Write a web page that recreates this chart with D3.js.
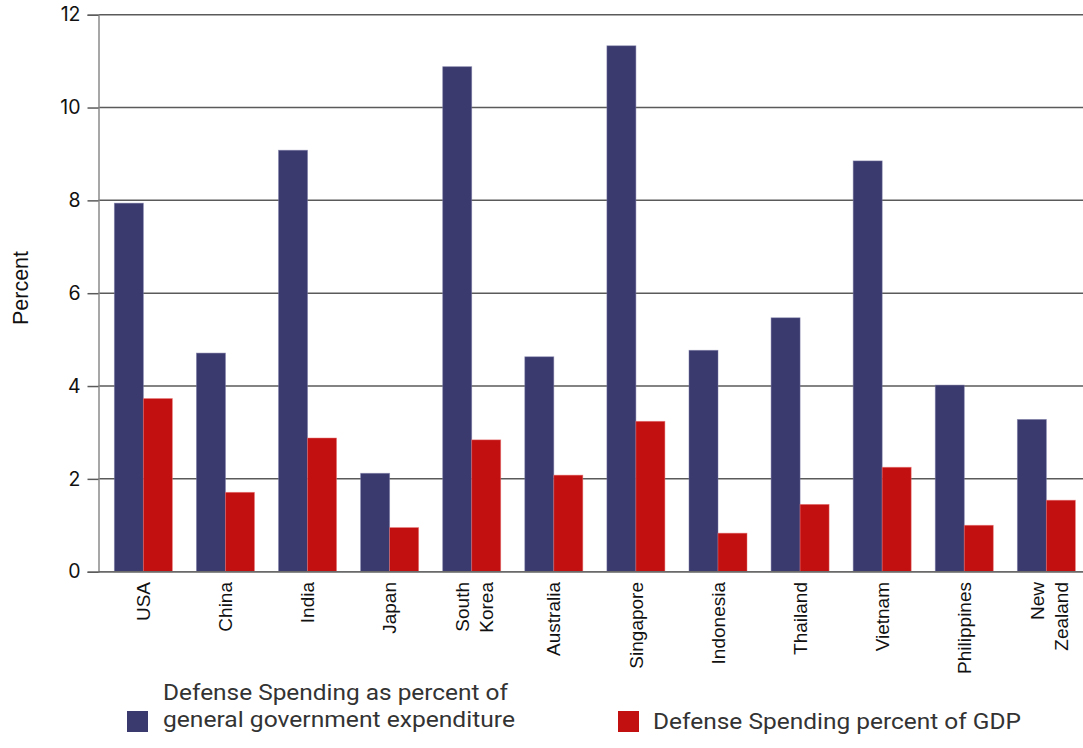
<!DOCTYPE html>
<html>
<head>
<meta charset="utf-8">
<script src="https://cdn.jsdelivr.net/npm/d3@7/dist/d3.min.js"></script>
<style>
  html, body { margin: 0; padding: 0; background: #fff; }
  svg { display: block; }
</style>
</head>
<body>
<svg id="chart" width="1083" height="748"></svg>
<script>
const categories = ["USA", "China", "India", "Japan", "South Korea", "Australia", "Singapore", "Indonesia", "Thailand", "Vietnam", "Philippines", "New Zealand"];
const categoryLines = [["USA"], ["China"], ["India"], ["Japan"], ["South", "Korea"], ["Australia"], ["Singapore"], ["Indonesia"], ["Thailand"], ["Vietnam"], ["Philippines"], ["New", "Zealand"]];
const seriesNames = ["Defense Spending as percent of general government expenditure", "Defense Spending percent of GDP"];
const legendLines = [["Defense Spending as percent of", "general government expenditure"], ["Defense Spending percent of GDP"]];
const govExpenditure = [7.94, 4.71, 9.08, 2.12, 10.88, 4.63, 11.33, 4.77, 5.47, 8.85, 4.02, 3.28];
const gdpShare = [3.73, 1.71, 2.88, 0.95, 2.84, 2.08, 3.24, 0.83, 1.45, 2.25, 1.00, 1.54];
const yTicks = [0, 2, 4, 6, 8, 10, 12];
const colors = ["#3b3a6e", "#c20f10"];

const svg = d3.select("#chart");
const yTop = 14.7, yBottom = 571.7, axisX = 98.5, plotRight = 1083;

const x0 = d3.scaleBand().domain(categories).range([102.3, 1087.4]).paddingInner(0).paddingOuter(0);
const x1 = d3.scaleBand().domain(seriesNames).range([12.05, 70.05]);
const y = d3.scaleLinear().domain([0, 12]).range([yBottom, yTop]);

// gridlines
svg.append("g").selectAll("line").data(yTicks).join("line")
  .attr("x1", axisX).attr("x2", plotRight)
  .attr("y1", d => y(d)).attr("y2", d => y(d))
  .attr("stroke", "#5a5a5a").attr("stroke-width", 1.5);

// y axis
const yAxis = d3.axisLeft(y).tickValues(yTicks).tickSize(11).tickPadding(7).tickFormat(d3.format("d"));
const gy = svg.append("g").attr("transform", `translate(${axisX},0)`).call(yAxis);
gy.select(".domain").attr("stroke", "#8a8a8a").attr("stroke-width", 1.5);
gy.selectAll(".tick line").attr("stroke", "#5a5a5a").attr("stroke-width", 1.5);
gy.selectAll(".tick text").attr("font-family", "Inter, sans-serif").attr("font-size", 19.5).attr("fill", "#111");

// bars
const groups = svg.append("g").selectAll("g").data(categories).join("g")
  .attr("transform", d => `translate(${x0(d)},0)`);
groups.selectAll("rect").data((d, i) => [
  { s: seriesNames[0], v: govExpenditure[i], c: 0 },
  { s: seriesNames[1], v: gdpShare[i], c: 1 }
]).join("rect")
  .attr("x", d => x1(d.s))
  .attr("width", x1.bandwidth())
  .attr("y", d => y(d.v))
  .attr("height", d => y(0) - y(d.v))
  .attr("fill", d => colors[d.c])
  .attr("stroke", d => d.c === 0 ? "#7a79a6" : "#e87070")
  .attr("stroke-width", 0.8)
  .attr("stroke-opacity", 0.6);

// bottom baseline
svg.append("line").attr("x1", axisX).attr("x2", plotRight).attr("y1", yBottom).attr("y2", yBottom)
  .attr("stroke", "#6a6a6a").attr("stroke-width", 1.5);

// x labels
const xl = svg.append("g");
categories.forEach((c, i) => {
  const lines = categoryLines[i];
  const cx = x0(c) + x0.bandwidth() / 2;
  const n = lines.length;
  const lh = 24;
  lines.forEach((ln, j) => {
    const off = (j - (n - 1) / 2) * lh + (n > 1 ? 3 : 0);
    xl.append("text")
      .attr("transform", `translate(${cx + off},582) rotate(-90)`)
      .attr("text-anchor", "end")
      .attr("dy", "0.35em")
      .attr("font-family", "Liberation Sans, Arial, sans-serif")
      .attr("font-size", 19)
      .attr("fill", "#111")
      .text(ln);
  });
});

// y label
svg.append("text")
  .attr("transform", "translate(20,288) rotate(-90)")
  .attr("text-anchor", "middle")
  .attr("dy", "0.35em")
  .attr("font-family", "Liberation Sans, Arial, sans-serif")
  .attr("font-size", 21.5)
  .attr("fill", "#111")
  .text("Percent");

// legend
const legendPos = [{ sx: 127, tx: 163, ty: 692 }, { sx: 618, tx: 653, ty: 721 }];
const legendWidths = [[345, 352], [368]];
legendLines.forEach((lines, i) => {
  svg.append("rect").attr("x", legendPos[i].sx).attr("y", 711).attr("width", 21).attr("height", 21)
    .attr("fill", colors[i]);
  lines.forEach((ln, j) => {
    svg.append("text")
      .attr("x", legendPos[i].tx)
      .attr("y", legendPos[i].ty + j * 27)
      .attr("dy", "0.35em")
      .attr("font-family", "Roboto, sans-serif")
      .attr("font-size", 22.5)
      .attr("textLength", legendWidths[i][j])
      .attr("lengthAdjust", "spacingAndGlyphs")
      .attr("fill", "#333")
      .text(ln);
  });
});
</script>
</body>
</html>
